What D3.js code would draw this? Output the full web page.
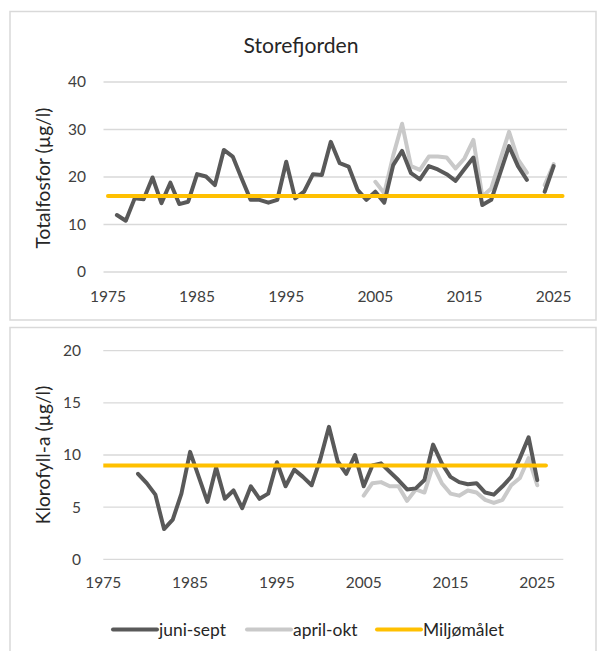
<!DOCTYPE html>
<html><head><meta charset="utf-8">
<script src="https://cdn.jsdelivr.net/npm/d3@7"></script>
<style>body{margin:0;background:#fff}svg{display:block;font-family:Lato,"Open Sans",sans-serif}</style>
</head><body><svg id="c" width="601" height="651"></svg>
<script>
const title = "Storefjorden";
const yTitleTop = "Totalfosfor (µg/l)";
const yTitleBottom = "Klorofyll-a (µg/l)";
const seriesNames = ["juni-sept", "april-okt", "Miljømålet"];
const xTicks = [1975, 1985, 1995, 2005, 2015, 2025];
const yTicksTop = [0, 10, 20, 30, 40];
const yTicksBottom = [0, 5, 10, 15, 20];

const tpYears = d3.range(1976, 2026);
const tpJuniSept = [12.0,10.8,15.5,15.3,19.9,14.5,18.8,14.3,14.8,20.6,20.1,18.3,25.7,24.3,19.7,15.2,15.2,14.6,15.2,23.2,15.5,16.9,20.6,20.4,27.4,22.9,22.2,17.3,15.2,16.9,14.6,22.5,25.5,20.8,19.5,22.3,21.6,20.6,19.2,21.7,24.1,14.1,15.2,20.8,26.5,22.3,19.4,null,16.9,22.3];
const tpAprilYears = d3.range(2005, 2026);
const tpAprilOkt = [19.0,16.6,24.5,31.2,22.3,21.5,24.3,24.3,24.1,21.8,23.9,27.8,15.9,17.6,23.6,29.5,23.7,20.9,null,18.3,22.7];
const tpTarget = [16, 16];
const targetYears = [1975, 2026];

const klaYears = d3.range(1979, 2026);
const klaJuniSept = [8.2,7.3,6.2,2.9,3.8,6.3,10.3,7.9,5.5,8.8,5.8,6.6,4.9,7.0,5.8,6.3,9.3,7.0,8.6,7.9,7.1,9.6,12.7,9.4,8.2,10.0,7.0,9.0,9.2,8.4,7.6,6.7,6.8,7.6,11.0,9.2,7.9,7.4,7.2,7.3,6.4,6.2,7.0,7.9,9.7,11.7,7.6];
const klaAprilYears = d3.range(2005, 2026);
const klaAprilOkt = [6.1,7.3,7.4,7.0,7.0,5.6,6.7,6.4,9.0,7.3,6.3,6.1,6.6,6.4,5.7,5.4,5.7,7.1,7.8,9.7,7.1];
const klaTarget = [9, 9];

const colors = ["#595959", "#c9c9c9", "#ffc000"];
const svg = d3.select("#c");
const textCol = "#404040";

// font fitting: size so that a sample string has a given pixel width
function fitSize(str, width){
  const t = svg.append("text").attr("font-size",20).text(str);
  const w = t.node().getComputedTextLength();
  t.remove();
  return 20*width/w;
}
const tickFS = fitSize("1975", 36);
const yTitleFS = fitSize(yTitleTop, 141);
const titleFS = fitSize(title, 115);
const legFS = fitSize(seriesNames[0], 67);

// panel borders
svg.append("rect").attr("x",10).attr("y",11.5).attr("width",586).attr("height",308.5)
  .attr("fill","none").attr("stroke","#d9d9d9").attr("stroke-width",1.5);
svg.append("rect").attr("x",10).attr("y",327.5).attr("width",586).attr("height",340)
  .attr("fill","none").attr("stroke","#d9d9d9").attr("stroke-width",1.5);

svg.append("text").attr("x",301).attr("y",46).attr("dy","0.35em").attr("text-anchor","middle")
  .attr("font-size",titleFS).attr("fill","#262626").text(title);

function panel(cfg){
  const g = svg.append("g");
  const x = d3.scaleLinear().domain(cfg.xDomain).range(cfg.xRange);
  const y = d3.scaleLinear().domain(cfg.yDomain).range(cfg.yRange);
  const id = "clip"+cfg.id;
  svg.append("clipPath").attr("id",id).append("rect")
    .attr("x",cfg.xRange[0]).attr("y",cfg.yRange[1]-10)
    .attr("width",cfg.xRange[1]-cfg.xRange[0]).attr("height",cfg.yRange[0]-cfg.yRange[1]+20);
  g.append("g").selectAll("line").data(cfg.yTicks).join("line")
    .attr("x1",cfg.xRange[0]).attr("x2",cfg.xRange[1])
    .attr("y1",d=>y(d)).attr("y2",d=>y(d))
    .attr("stroke","#d9d9d9").attr("stroke-width",1.3);
  g.append("g").selectAll("text").data(cfg.yTicks).join("text")
    .attr("x",cfg.yLabelX).attr("y",d=>y(d)).attr("dy","0.35em")
    .attr("text-anchor","end").attr("font-size",tickFS).attr("fill",textCol).text(d=>d);
  g.append("g").selectAll("text").data(xTicks).join("text")
    .attr("x",d=>x(d)).attr("y",cfg.xLabelY).attr("dy","0.35em")
    .attr("text-anchor","middle").attr("font-size",tickFS).attr("fill",textCol).text(d=>d);
  g.append("text").attr("transform",`translate(${cfg.yTitleX},${cfg.yTitleY}) rotate(-90)`)
    .attr("text-anchor","middle").attr("dy","0.35em").attr("font-size",yTitleFS).attr("fill","#262626").text(cfg.yTitle);
  const line = d3.line().defined(d=>d[1]!=null).x(d=>x(d[0])).y(d=>y(d[1]));
  const lg = g.append("g").attr("clip-path",`url(#${id})`);
  cfg.series.forEach(s=>{
    lg.append("path").datum(s.years.map((yr,k)=>[yr,s.values[k]]))
      .attr("d",line).attr("fill","none").attr("stroke",s.color)
      .attr("stroke-width",4).attr("stroke-linejoin","round").attr("stroke-linecap","round");
  });
}

panel({id:"a", xDomain:[1974.5,2026.5], xRange:[103.5,567], yDomain:[0,40], yRange:[272,82],
  yTicks:yTicksTop, yLabelX:86, xLabelY:297, yTitleX:43, yTitleY:178, yTitle:yTitleTop,
  series:[
    {years:tpAprilYears, values:tpAprilOkt, color:colors[1]},
    {years:tpYears, values:tpJuniSept, color:colors[0]},
    {years:targetYears, values:tpTarget, color:colors[2]}
  ]});

panel({id:"b", xDomain:[1975,2028], xRange:[103.3,563.3], yDomain:[0,20], yRange:[559.3,350.7],
  yTicks:yTicksBottom, yLabelX:81, xLabelY:583, yTitleX:43, yTitleY:455, yTitle:yTitleBottom,
  series:[
    {years:klaAprilYears, values:klaAprilOkt, color:colors[1]},
    {years:klaYears, values:klaJuniSept, color:colors[0]},
    {years:targetYears, values:klaTarget, color:colors[2]}
  ]});

const legX = [113, 247, 377];
const lg = svg.append("g");
seriesNames.forEach((n,i)=>{
  lg.append("line").attr("x1",legX[i]).attr("x2",legX[i]+44).attr("y1",629.5).attr("y2",629.5)
    .attr("stroke",colors[i]).attr("stroke-width",4).attr("stroke-linecap","round");
  lg.append("text").attr("x",legX[i]+46).attr("y",629.5).attr("dy","0.35em")
    .attr("font-size",legFS).attr("fill","#262626").text(n);
});
</script></body></html>
